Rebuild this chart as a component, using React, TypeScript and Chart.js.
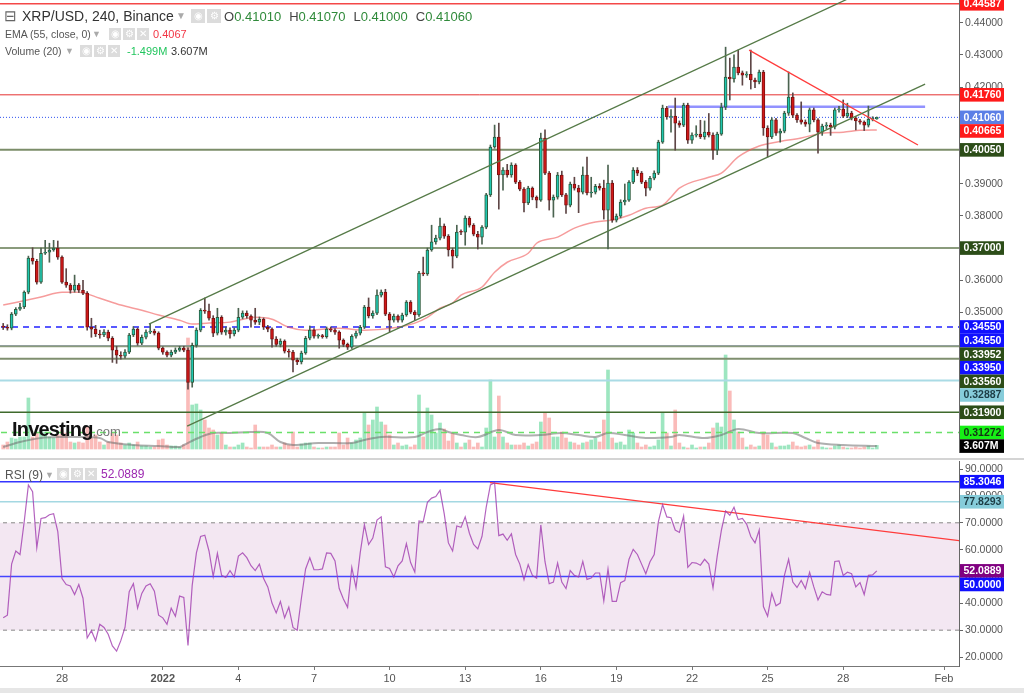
import React, { useEffect, useRef } from 'react';
import { Chart, registerables } from 'chart.js';

Chart.register(...registerables);
Chart.defaults.font.family = 'Arial, "Liberation Sans", sans-serif';

// ---------------- DATA ----------------
// XRP/USD 4h candles (index 0 = Dec 25 16:00 ... index 208 = Jan 29 08:00)
const firstOpen = 0.3458;
const closes = [
  0.3454, 0.3451, 0.3495, 0.3510, 0.3517, 0.3563, 0.3669, 0.3659, 0.3594, 0.3684,
  0.3687, 0.3694, 0.3700, 0.3672, 0.3594, 0.3585, 0.3569, 0.3585, 0.3569, 0.3560,
  0.3454, 0.3448, 0.3433, 0.3430, 0.3439, 0.3420, 0.3383, 0.3367, 0.3364, 0.3377,
  0.3430, 0.3448, 0.3405, 0.3423, 0.3439, 0.3442, 0.3436, 0.3389, 0.3377, 0.3367,
  0.3377, 0.3383, 0.3389, 0.3383, 0.3283, 0.3398, 0.3445, 0.3507, 0.3504, 0.3482,
  0.3436, 0.3485, 0.3439, 0.3445, 0.3433, 0.3445, 0.3485, 0.3498, 0.3489, 0.3476,
  0.3470, 0.3479, 0.3454, 0.3448, 0.3417, 0.3401, 0.3411, 0.3380, 0.3377, 0.3352,
  0.3346, 0.3374, 0.3420, 0.3445, 0.3426, 0.3427, 0.3425, 0.3448, 0.3445, 0.3439,
  0.3414, 0.3401, 0.3392, 0.3426, 0.3436, 0.3454, 0.3517, 0.3489, 0.3498, 0.3554,
  0.3563, 0.3495, 0.3476, 0.3489, 0.3476, 0.3492, 0.3532, 0.3501, 0.3492, 0.3622,
  0.3620, 0.3694, 0.3719, 0.3731, 0.3768, 0.3737, 0.3694, 0.3675, 0.3750, 0.3749,
  0.3793, 0.3771, 0.3743, 0.3734, 0.3765, 0.3865, 0.4014, 0.4045, 0.3927, 0.3942,
  0.3927, 0.3958, 0.3905, 0.3883, 0.3840, 0.3886, 0.3858, 0.3849, 0.4042, 0.3933,
  0.3849, 0.3858, 0.3927, 0.3865, 0.3833, 0.3899, 0.3886, 0.3874, 0.3927, 0.3871,
  0.3874, 0.3892, 0.3886, 0.3818, 0.3902, 0.3787, 0.3799, 0.3843, 0.3849, 0.3905,
  0.3942, 0.3933, 0.3905, 0.3886, 0.3917, 0.3933, 0.4029, 0.4135, 0.4107, 0.4110,
  0.4088, 0.4082, 0.4144, 0.4035, 0.4051, 0.4054, 0.4045, 0.4060, 0.4051, 0.4004,
  0.4054, 0.4138, 0.4231, 0.4225, 0.4262, 0.4244, 0.4237, 0.4240, 0.4222, 0.4216,
  0.4247, 0.4073, 0.4045, 0.4098, 0.4057, 0.4063, 0.4119, 0.4169, 0.4113, 0.4098,
  0.4091, 0.4085, 0.4129, 0.4098, 0.4060, 0.4079, 0.4082, 0.4076, 0.4129, 0.4132,
  0.4110, 0.4119, 0.4104, 0.4095, 0.4091, 0.4082, 0.4100, 0.4101, 0.4106,
];
const highs = [
  0.3466, 0.3462, 0.3500, 0.3515, 0.3528, 0.3567, 0.3675, 0.3701, 0.3665, 0.3700,
  0.3724, 0.3715, 0.3724, 0.3722, 0.3676, 0.3636, 0.3590, 0.3616, 0.3590, 0.3600,
  0.3565, 0.3482, 0.3460, 0.3445, 0.3447, 0.3445, 0.3425, 0.3395, 0.3378, 0.3385,
  0.3435, 0.3456, 0.3452, 0.3430, 0.3446, 0.3466, 0.3448, 0.3440, 0.3393, 0.3381,
  0.3383, 0.3390, 0.3395, 0.3395, 0.3390, 0.3405, 0.3452, 0.3512, 0.3545, 0.3526,
  0.3490, 0.3513, 0.3490, 0.3455, 0.3452, 0.3452, 0.3513, 0.3505, 0.3505, 0.3493,
  0.3513, 0.3486, 0.3483, 0.3460, 0.3452, 0.3425, 0.3418, 0.3415, 0.3386, 0.3382,
  0.3358, 0.3380, 0.3426, 0.3458, 0.3450, 0.3433, 0.3432, 0.3455, 0.3455, 0.3450,
  0.3443, 0.3418, 0.3405, 0.3431, 0.3442, 0.3460, 0.3522, 0.3545, 0.3505, 0.3570,
  0.3570, 0.3572, 0.3500, 0.3495, 0.3493, 0.3498, 0.3537, 0.3537, 0.3506, 0.3628,
  0.3672, 0.3700, 0.3771, 0.3740, 0.3793, 0.3775, 0.3742, 0.3700, 0.3771, 0.3757,
  0.3800, 0.3798, 0.3776, 0.3752, 0.3770, 0.3870, 0.4020, 0.4082, 0.4088, 0.3950,
  0.3960, 0.3965, 0.3962, 0.3910, 0.3888, 0.3892, 0.3890, 0.3862, 0.4057, 0.4067,
  0.3938, 0.3865, 0.3935, 0.3939, 0.3870, 0.3905, 0.3920, 0.3895, 0.3952, 0.3983,
  0.3920, 0.3898, 0.3900, 0.3911, 0.3958, 0.3910, 0.3806, 0.3850, 0.3899, 0.3910,
  0.3950, 0.3950, 0.3938, 0.3910, 0.3923, 0.3940, 0.4035, 0.4144, 0.4140, 0.4130,
  0.4166, 0.4095, 0.4150, 0.4150, 0.4058, 0.4080, 0.4097, 0.4095, 0.4118, 0.4058,
  0.4060, 0.4150, 0.4324, 0.4290, 0.4300, 0.4315, 0.4250, 0.4248, 0.4315, 0.4228,
  0.4253, 0.4252, 0.4080, 0.4105, 0.4103, 0.4070, 0.4125, 0.4247, 0.4182, 0.4118,
  0.4154, 0.4098, 0.4135, 0.4135, 0.4102, 0.4085, 0.4090, 0.4088, 0.4135, 0.4140,
  0.4160, 0.4150, 0.4125, 0.4108, 0.4100, 0.4095, 0.4141, 0.4108, 0.4107,
];
const lows = [
  0.3447, 0.3445, 0.3446, 0.3490, 0.3506, 0.3512, 0.3558, 0.3650, 0.3588, 0.3590,
  0.3680, 0.3656, 0.3690, 0.3665, 0.3590, 0.3578, 0.3560, 0.3563, 0.3562, 0.3555,
  0.3445, 0.3423, 0.3425, 0.3420, 0.3425, 0.3412, 0.3345, 0.3342, 0.3355, 0.3358,
  0.3372, 0.3425, 0.3398, 0.3400, 0.3418, 0.3434, 0.3430, 0.3384, 0.3370, 0.3362,
  0.3362, 0.3372, 0.3379, 0.3378, 0.3262, 0.3268, 0.3392, 0.3440, 0.3497, 0.3476,
  0.3425, 0.3430, 0.3432, 0.3430, 0.3420, 0.3427, 0.3440, 0.3480, 0.3482, 0.3454,
  0.3463, 0.3462, 0.3447, 0.3440, 0.3392, 0.3395, 0.3393, 0.3374, 0.3361, 0.3315,
  0.3338, 0.3340, 0.3370, 0.3415, 0.3420, 0.3420, 0.3420, 0.3420, 0.3440, 0.3432,
  0.3389, 0.3394, 0.3385, 0.3388, 0.3420, 0.3430, 0.3450, 0.3483, 0.3482, 0.3493,
  0.3548, 0.3490, 0.3439, 0.3470, 0.3470, 0.3470, 0.3488, 0.3496, 0.3476, 0.3488,
  0.3614, 0.3615, 0.3690, 0.3712, 0.3725, 0.3730, 0.3675, 0.3638, 0.3670, 0.3742,
  0.3709, 0.3765, 0.3738, 0.3697, 0.3712, 0.3760, 0.3860, 0.4010, 0.3821, 0.3880,
  0.3920, 0.3920, 0.3900, 0.3878, 0.3812, 0.3835, 0.3850, 0.3825, 0.3845, 0.3928,
  0.3818, 0.3796, 0.3852, 0.3860, 0.3808, 0.3828, 0.3880, 0.3810, 0.3868, 0.3865,
  0.3858, 0.3868, 0.3880, 0.3790, 0.3697, 0.3780, 0.3781, 0.3794, 0.3834, 0.3845,
  0.3900, 0.3925, 0.3900, 0.3862, 0.3880, 0.3912, 0.3928, 0.4025, 0.4100, 0.4060,
  0.4004, 0.4075, 0.4077, 0.4025, 0.4025, 0.4045, 0.4040, 0.4038, 0.4045, 0.3975,
  0.3990, 0.4050, 0.4130, 0.4160, 0.4215, 0.4238, 0.4206, 0.4230, 0.4194, 0.4198,
  0.4210, 0.4050, 0.3983, 0.4040, 0.4050, 0.4029, 0.4058, 0.4112, 0.4105, 0.4090,
  0.4085, 0.4078, 0.4061, 0.4092, 0.3995, 0.4050, 0.4070, 0.4050, 0.4070, 0.4122,
  0.4105, 0.4105, 0.4098, 0.4067, 0.4085, 0.4065, 0.4076, 0.4095, 0.4100,
];
// volume in millions
const volumesM = [
  4, 7, 11, 10, 12, 12, 51, 12, 16, 19,
  17, 12, 11, 14, 19, 16, 7, 6, 7, 6,
  22, 11, 14, 7, 4, 7, 16, 14, 6, 4,
  6, 4, 7, 3, 3, 2, 2, 9, 10, 4,
  3, 3, 2, 4, 111, 44, 45, 39, 29, 21,
  19, 14, 16, 4, 2, 2, 4, 6, 2, 1,
  24, 2, 2, 2, 4, 2, 2, 6, 4, 17,
  2, 5, 6, 6, 2, 1, 1, 2, 2, 2,
  16, 4, 11, 6, 9, 11, 36, 24, 29, 42,
  27, 24, 14, 4, 6, 3, 4, 2, 4, 54,
  12, 41, 34, 16, 26, 20, 8, 16, 6, 2,
  6, 9, 2, 6, 2, 21, 69, 12, 53, 12,
  6, 4, 4, 4, 6, 3, 5, 7, 27, 36,
  31, 12, 12, 17, 11, 7, 6, 4, 6, 7,
  9, 11, 7, 29, 79, 11, 6, 7, 4, 19,
  16, 6, 2, 4, 2, 3, 9, 36, 16, 3,
  39, 6, 2, 1, 4, 1, 2, 2, 6, 21,
  26, 22, 94, 58, 29, 17, 11, 2, 4, 2,
  3, 17, 14, 6, 2, 3, 3, 4, 7, 3,
  2, 3, 4, 2, 9, 2, 1, 1, 3, 4,
  2, 1, 1, 2, 1, 2, 3, 1, 3.607,
];
// EMA(55) at candle indexes
const emaIdx = [0, 9, 14, 18, 23, 28, 33, 37, 42, 45, 49, 54, 60, 64, 68, 72, 80, 86, 94, 98, 101, 104, 107, 109, 114, 117, 120, 125, 127, 132, 136, 141, 145, 149, 153, 157, 159, 161, 168, 171, 175, 180, 184, 190, 195, 200, 204, 208];
const emaVal = [0.3523, 0.3548, 0.3563, 0.3563, 0.3544, 0.3523, 0.3507, 0.3492, 0.3476, 0.3464, 0.3467, 0.3470, 0.3485, 0.3479, 0.3454, 0.3445, 0.3451, 0.3445, 0.3454, 0.3467, 0.3485, 0.3513, 0.3529, 0.3554, 0.3579, 0.3625, 0.3656, 0.3684, 0.3715, 0.3734, 0.3762, 0.3781, 0.3787, 0.3802, 0.3824, 0.3833, 0.3858, 0.3886, 0.3920, 0.3933, 0.3983, 0.4017, 0.4029, 0.4042, 0.4057, 0.4060, 0.4066, 0.4067];
// Volume MA(20), millions
const volMaIdx = [0, 4, 9, 14, 18, 23, 25, 31, 37, 42, 43, 47, 50, 54, 59, 63, 66, 69, 75, 83, 86, 90, 98, 101, 104, 106, 109, 113, 118, 122, 128, 133, 137, 141, 144, 148, 153, 159, 161, 167, 171, 175, 180, 188, 191, 194, 200, 208];
const volMaVal = [2, 7, 11, 12, 12, 11, 7, 4, 3, 2, 4, 12, 16, 16, 17, 16, 7, 4, 6, 6, 9, 12, 12, 17, 20, 17, 14, 12, 19, 14, 14, 16, 14, 12, 16, 14, 11, 12, 14, 11, 14, 20, 16, 16, 11, 6, 4, 3];
// RSI(9)
const rsiValues = [
  34.6, 35.6, 54.6, 59.5, 58.2, 70.4, 84.1, 81.6, 60.7, 71.6,
  71.9, 73.0, 73.4, 66.7, 49.2, 47.0, 46.5, 43.3, 47.0, 41.9,
  27.1, 29.8, 26.1, 32.2, 31.0, 28.5, 24.1, 22.2, 26.1, 31.0,
  44.3, 47.3, 38.2, 43.7, 46.5, 47.3, 44.5, 35.6, 34.6, 32.2,
  38.2, 35.2, 42.7, 42.2, 24.3, 46.7, 58.8, 64.9, 65.4, 59.5,
  50.0, 58.6, 50.4, 49.6, 52.2, 49.8, 57.6, 58.8, 57.0, 54.0,
  52.2, 54.6, 49.2, 46.1, 40.1, 36.4, 40.7, 34.6, 38.6, 31.0,
  30.0, 41.9, 52.8, 57.0, 52.5, 52.5, 52.8, 58.8, 58.6, 55.8,
  45.5, 41.6, 38.5, 53.4, 45.8, 58.8, 69.2, 61.9, 64.3, 71.0,
  72.2, 53.6, 53.0, 49.8, 54.0, 55.8, 62.2, 55.2, 51.6, 70.7,
  70.4, 77.6, 79.2, 79.8, 82.1, 73.4, 62.5, 59.5, 68.8, 68.3,
  72.2, 66.1, 61.9, 60.3, 64.9, 75.8, 84.1, 84.9, 65.2, 65.8,
  63.5, 65.9, 58.2, 54.6, 48.8, 54.4, 50.4, 49.4, 69.2, 55.5,
  47.3, 47.9, 55.0, 47.9, 45.5, 52.2, 50.4, 49.8, 55.6, 48.9,
  49.4, 51.3, 51.3, 40.9, 52.8, 40.7, 40.7, 47.7, 48.5, 56.4,
  60.1, 58.2, 54.6, 51.0, 55.5, 58.2, 70.4, 76.8, 72.2, 71.9,
  67.3, 66.4, 72.5, 53.4, 55.2, 55.0, 54.2, 56.4, 54.6, 45.8,
  57.6, 67.3, 74.4, 72.8, 75.8, 71.2, 71.6, 69.5, 64.9, 62.5,
  67.3, 38.8, 35.2, 43.7, 39.1, 40.1, 50.4, 56.4, 47.9, 45.9,
  48.5, 45.5, 51.6, 46.1, 41.3, 44.3, 43.3, 43.1, 55.6, 55.8,
  50.4, 51.6, 51.0, 46.1, 47.7, 43.3, 50.4, 50.6, 52.0889,
];
const dateTickIdx = [14, 38, 56, 74, 92, 110, 128, 146, 164, 182, 200, 224];
const dateTickLabels = ['28', '2022', '4', '7', '10', '13', '16', '19', '22', '25', '28', 'Feb'];
const priceTicks = [0.35, 0.36, 0.37, 0.38, 0.39, 0.40, 0.41, 0.42, 0.43, 0.44];
const rsiTicks = [20, 30, 40, 50, 60, 70, 80, 90];

// drawn price levels
const levelTopRed = 0.44587;
const levelRed = 0.4176;
const level4005 = 0.4005;
const level37 = 0.37;
const level3455 = 0.3455;
const level3455b = 0.3455;
const level33952 = 0.33952;
const level3395 = 0.3395;
const level3356 = 0.3356;
const level32887 = 0.32887;
const level319 = 0.319;
const level31272 = 0.31272;
const lastEmaLevel = 0.40665;
const blueBoxLevel = 0.4139;
// trend lines: [candle index, price]
const channelUpper = [[34.7, 0.3464], [210, 0.4528]];
const channelLower = [[43.8, 0.3147], [219.5, 0.4209]];
const redTrend = [[177.6, 0.4315], [217.8, 0.4020]];
const blueSegment = [[158.3, blueBoxLevel], [219.5, blueBoxLevel]];
// RSI levels
const rsiHigh = 85.3046;
const rsiCyan = 77.8293;
const rsiUpperBand = 70;
const rsiMid = 50;
const rsiLowerBand = 30;
const rsiTrend = [[115.9, 85.0], [228, 63.3]];

// ---------------- CHART ----------------
const X_MIN = -0.762;
const X_MAX = 227.57;
const FONT = 'Arial, "Liberation Sans", sans-serif';

function hline(y: number, color: string, width: number, dash: number[] = [], axis = 'y', order = 6) {
  return {
    type: 'line' as const,
    data: [{ x: X_MIN - 5, y }, { x: X_MAX + 5, y }],
    borderColor: color,
    borderWidth: width,
    borderDash: dash,
    pointRadius: 0,
    fill: false,
    yAxisID: axis,
    order,
  };
}
function segment(pts: number[][], color: string, width: number, order = 1) {
  return {
    type: 'line' as const,
    data: pts.map(p => ({ x: p[0], y: p[1] })),
    borderColor: color,
    borderWidth: width,
    pointRadius: 0,
    fill: false,
    yAxisID: 'y',
    order,
  };
}

type Lbl = { value: number; text: string; bg: string; fg: string; axis?: string };
function boxPlugin(items: Lbl[]) {
  return {
    id: 'axisBoxes',
    afterDraw(chart: any) {
      const { ctx, chartArea } = chart;
      const placed = items
        .map(it => ({ ...it, py: chart.scales[it.axis || 'y'].getPixelForValue(it.value) }))
        .sort((a, b) => a.py - b.py);
      const h = 13.6;
      let prev = -1e9;
      ctx.save();
      ctx.font = 'bold 10.5px ' + FONT;
      ctx.textBaseline = 'middle';
      ctx.textAlign = 'left';
      for (const p of placed) {
        const y = Math.max(p.py, prev + h);
        prev = y;
        ctx.fillStyle = p.bg;
        ctx.fillRect(chartArea.right + 1, y - h / 2, 44, h);
        ctx.fillStyle = p.fg;
        ctx.fillText(p.text, chartArea.right + 4.5, y + 0.5);
      }
      ctx.restore();
    },
  };
}

const iconBox: React.CSSProperties = {
  display: 'inline-block', width: 12, height: 12, background: '#dcdcdc', color: '#fff',
  fontSize: 10, lineHeight: '12px', textAlign: 'center', marginRight: 2, verticalAlign: 'top',
};

export default function App() {
  const mainRef = useRef<HTMLCanvasElement>(null);
  const rsiRef = useRef<HTMLCanvasElement>(null);

  useEffect(() => {
    const opens = closes.map((c, i) => (i === 0 ? firstOpen : closes[i - 1]));
    const up = closes.map((c, i) => c >= opens[i]);
    const lastClose = closes[closes.length - 1];
    const lastVol = volumesM[volumesM.length - 1];

    const mainLabels: Lbl[] = [
      { value: levelTopRed, text: levelTopRed.toFixed(5), bg: '#ff1a1a', fg: '#fff' },
      { value: levelRed, text: levelRed.toFixed(5), bg: '#ff1a1a', fg: '#fff' },
      { value: lastClose, text: lastClose.toFixed(5), bg: '#5b7fe6', fg: '#fff' },
      { value: lastEmaLevel, text: lastEmaLevel.toFixed(5), bg: '#ff1a1a', fg: '#fff' },
      { value: level4005, text: level4005.toFixed(5), bg: '#2c4d18', fg: '#fff' },
      { value: level37, text: level37.toFixed(5), bg: '#2c4d18', fg: '#fff' },
      { value: level3455, text: level3455.toFixed(5), bg: '#1010ff', fg: '#fff' },
      { value: level3455b, text: level3455b.toFixed(5), bg: '#1010ff', fg: '#fff' },
      { value: level33952, text: level33952.toFixed(5), bg: '#2c4d18', fg: '#fff' },
      { value: level3395, text: level3395.toFixed(5), bg: '#1010ff', fg: '#fff' },
      { value: level3356, text: level3356.toFixed(5), bg: '#2c4d18', fg: '#fff' },
      { value: level32887, text: level32887.toFixed(5), bg: '#86ccda', fg: '#1d3d45' },
      { value: level319, text: level319.toFixed(5), bg: '#2c4d18', fg: '#fff' },
      { value: level31272, text: level31272.toFixed(5), bg: '#16f016', fg: '#153015' },
      { value: lastVol, text: lastVol.toFixed(3) + 'M', bg: '#000', fg: '#fff', axis: 'yVol' },
    ];

    const main = new Chart(mainRef.current!, {
      type: 'bar',
      data: {
        datasets: [
          {
            type: 'bar',
            data: volumesM.map((v, i) => ({ x: i, y: v })),
            backgroundColor: up.map(u => (u ? 'rgba(60, 205, 130, 0.5)' : 'rgba(245, 120, 115, 0.5)')),
            borderWidth: 0,
            barThickness: 3,
            grouped: false,
            yAxisID: 'yVol',
            order: 10,
          } as any,
          {
            type: 'line',
            data: volMaIdx.map((ix, k) => ({ x: ix, y: volMaVal[k] })),
            borderColor: 'rgba(110, 110, 110, 0.55)',
            borderWidth: 2,
            pointRadius: 0,
            tension: 0.35,
            fill: false,
            yAxisID: 'yVol',
            order: 9,
          } as any,
          hline(levelTopRed, '#f44848', 1.5),
          hline(levelRed, '#e53030', 1),
          hline(lastClose, '#2c4ff0', 1, [1, 2]),
          hline(level4005, '#7b8d69', 2),
          hline(level37, '#8a9b7c', 2),
          hline(level3455, '#2222ff', 1.5, [6, 5]),
          hline(level33952, '#8a9b7c', 2),
          hline(level3395, '#5a5aff', 1.3),
          hline(level3356, '#7f8f6f', 2),
          hline(level32887, '#aadbe5', 2),
          hline(level319, '#3f6a2c', 1.5),
          hline(level31272, '#6ae06a', 1.5, [6, 5]),
          segment(blueSegment, 'rgba(110, 110, 255, 0.75)', 2.5, 4),
          {
            type: 'line',
            data: emaIdx.map((ix, k) => ({ x: ix, y: emaVal[k] })),
            borderColor: 'rgba(240, 90, 90, 0.6)',
            borderWidth: 1.5,
            pointRadius: 0,
            cubicInterpolationMode: 'monotone',
            fill: false,
            yAxisID: 'y',
            order: 5,
          } as any,
          {
            type: 'bar',
            data: closes.map((c, i) => ({ x: i, y: [lows[i], highs[i]] })),
            backgroundColor: up.map(u => (u ? '#4b6350' : '#5e4646')),
            borderWidth: 0,
            barThickness: 1,
            grouped: false,
            yAxisID: 'y',
            order: 3,
          } as any,
          {
            type: 'bar',
            data: closes.map((c, i) => ({ x: i, y: [opens[i], c] })),
            backgroundColor: up.map(u => (u ? '#1fc7b0' : '#d01818')),
            borderColor: up.map(u => (u ? '#2d5a3c' : '#7c1010')),
            borderWidth: 1,
            borderSkipped: false,
            barThickness: 3,
            minBarLength: 1,
            grouped: false,
            yAxisID: 'y',
            order: 2,
          } as any,
          segment(channelUpper, '#557a47', 1.3, 1),
          segment(channelLower, '#557a47', 1.3, 1),
          segment(redTrend, '#ff3b3b', 1.3, 1),
        ],
      },
      options: {
        animation: false,
        responsive: false,
        maintainAspectRatio: false,
        events: [],
        layout: { padding: { top: 0, bottom: 6, left: 0, right: 0 } },
        plugins: { legend: { display: false }, tooltip: { enabled: false } },
        scales: {
          x: { type: 'linear', min: X_MIN, max: X_MAX, display: false, offset: false, grid: { offset: false } },
          y: {
            type: 'linear',
            position: 'right',
            min: 0.30666,
            max: 0.44705,
            afterBuildTicks: (s: any) => { s.ticks = priceTicks.map(v => ({ value: v })); },
            afterFit: (s: any) => { s.width = 65; s.paddingTop = 0; s.paddingBottom = 0; },
            ticks: {
              callback: (v: any) => Number(v).toFixed(5),
              color: '#555',
              font: { size: 10.5 },
              padding: 2,
            },
            grid: { drawOnChartArea: false, drawTicks: true, tickLength: 4, color: '#666' },
            border: { display: true, color: '#666' },
          },
          yVol: { type: 'linear', display: false, min: -3, max: 449 },
        },
      } as any,
      plugins: [boxPlugin(mainLabels)],
    });

    const rsiLabels: Lbl[] = [
      { value: rsiHigh, text: rsiHigh.toFixed(4), bg: '#1010ff', fg: '#fff' },
      { value: rsiCyan, text: rsiCyan.toFixed(4), bg: '#86ccda', fg: '#1d3d45' },
      { value: rsiValues[rsiValues.length - 1], text: rsiValues[rsiValues.length - 1].toFixed(4), bg: '#800080', fg: '#fff' },
      { value: rsiMid, text: rsiMid.toFixed(4), bg: '#1010ff', fg: '#fff' },
    ];

    const rsi = new Chart(rsiRef.current!, {
      type: 'line',
      data: {
        datasets: [
          {
            ...hline(rsiUpperBand, '#888', 1, [4, 4], 'y', 10),
            fill: { value: rsiLowerBand },
            backgroundColor: 'rgba(150, 40, 140, 0.11)',
          } as any,
          hline(rsiLowerBand, '#888', 1, [4, 4], 'y', 9),
          hline(rsiHigh, '#3535ff', 1.5),
          hline(rsiCyan, '#a4d8e2', 1.5),
          hline(rsiMid, '#4545ff', 1.5),
          segment(rsiTrend, '#ff3b3b', 1.3, 2),
          {
            type: 'line',
            data: rsiValues.map((v, i) => ({ x: i, y: v })),
            borderColor: 'rgba(160, 60, 175, 0.8)',
            borderWidth: 1.2,
            pointRadius: 0,
            fill: false,
            yAxisID: 'y',
            order: 1,
          } as any,
        ],
      },
      options: {
        animation: false,
        responsive: false,
        maintainAspectRatio: false,
        events: [],
        layout: { padding: { top: 3, bottom: 0, left: 0, right: 0 } },
        plugins: { legend: { display: false }, tooltip: { enabled: false } },
        scales: {
          x: {
            type: 'linear',
            min: X_MIN,
            max: X_MAX,
            offset: false,
            position: 'bottom',
            afterBuildTicks: (s: any) => { s.ticks = dateTickIdx.map(v => ({ value: v })); },
            afterFit: (s: any) => { s.height = 22; s.paddingLeft = 0; s.paddingRight = 0; },
            ticks: {
              callback: (v: any) => {
                const k = dateTickIdx.indexOf(Number(v));
                return k >= 0 ? dateTickLabels[k] : '';
              },
              color: '#555',
              font: (c: any) => ({ size: 11, weight: c.tick && c.tick.value === 38 ? 'bold' : 'normal' }),
              maxRotation: 0,
              autoSkip: false,
              padding: 2,
            },
            grid: { drawOnChartArea: false, drawTicks: true, tickLength: 4, color: '#777' },
            border: { display: true, color: '#777' },
          },
          y: {
            type: 'linear',
            position: 'right',
            min: 16.65,
            max: 93.02,
            afterBuildTicks: (s: any) => { s.ticks = rsiTicks.map(v => ({ value: v })); },
            afterFit: (s: any) => { s.width = 65; s.paddingTop = 0; s.paddingBottom = 0; },
            ticks: {
              callback: (v: any) => Number(v).toFixed(4),
              color: '#555',
              font: { size: 10.5 },
              padding: 2,
            },
            grid: { drawOnChartArea: false, drawTicks: true, tickLength: 4, color: '#666' },
            border: { display: true, color: '#666' },
          },
        },
      } as any,
      plugins: [boxPlugin(rsiLabels)],
    });

    return () => {
      main.destroy();
      rsi.destroy();
    };
  }, []);

  const txt: React.CSSProperties = { position: 'absolute', whiteSpace: 'nowrap', fontFamily: FONT };

  return (
    <div style={{ position: 'absolute', left: 0, top: 0, width: 1024, height: 693, background: '#fff', overflow: 'hidden', fontFamily: FONT }}>
      <canvas ref={mainRef} width={1024} height={458} style={{ position: 'absolute', left: 0, top: 0, width: 1024, height: 458 }} />
      <div style={{ position: 'absolute', left: 0, top: 458, width: 1024, height: 2, background: '#d4d4d4' }} />
      <canvas ref={rsiRef} width={1024} height={230} style={{ position: 'absolute', left: 0, top: 458, width: 1024, height: 230 }} />
      <div style={{ position: 'absolute', left: 0, top: 688, width: 1024, height: 5, background: '#e6e6e6' }} />

      {/* main legend */}
      <div style={{ ...txt, left: 4, top: 7, fontSize: 15, color: '#666' }}>⊟</div>
      <div style={{ ...txt, left: 22, top: 8, fontSize: 14, color: '#333' }}>XRP/USD, 240, Binance</div>
      <div style={{ ...txt, left: 176, top: 10, fontSize: 10, color: '#aaa' }}>▼</div>
      <div style={{ ...txt, left: 191, top: 9 }}>
        <span style={{ ...iconBox, width: 14, height: 14, lineHeight: '14px' }}>◉</span>
        <span style={{ ...iconBox, width: 14, height: 14, lineHeight: '14px' }}>⚙</span>
      </div>
      <div style={{ ...txt, left: 224, top: 9, fontSize: 13, color: '#444' }}>
        O<span style={{ color: '#2f8a3a' }}>0.41010</span>
        <span style={{ marginLeft: 8 }}>H</span><span style={{ color: '#2f8a3a' }}>0.41070</span>
        <span style={{ marginLeft: 8 }}>L</span><span style={{ color: '#2f8a3a' }}>0.41000</span>
        <span style={{ marginLeft: 8 }}>C</span><span style={{ color: '#2f8a3a' }}>0.41060</span>
      </div>
      <div style={{ ...txt, left: 5, top: 28, fontSize: 10.5, color: '#555' }}>EMA (55, close, 0)</div>
      <div style={{ ...txt, left: 92, top: 29, fontSize: 9, color: '#aaa' }}>▼</div>
      <div style={{ ...txt, left: 109, top: 28 }}>
        <span style={iconBox}>◉</span><span style={iconBox}>⚙</span><span style={iconBox}>✕</span>
      </div>
      <div style={{ ...txt, left: 153, top: 28, fontSize: 11, color: '#f23645' }}>0.4067</div>
      <div style={{ ...txt, left: 5, top: 45, fontSize: 10.5, color: '#555' }}>Volume (20)</div>
      <div style={{ ...txt, left: 65, top: 46, fontSize: 9, color: '#aaa' }}>▼</div>
      <div style={{ ...txt, left: 80, top: 45 }}>
        <span style={iconBox}>◉</span><span style={iconBox}>⚙</span><span style={iconBox}>✕</span>
      </div>
      <div style={{ ...txt, left: 127, top: 45, fontSize: 11, color: '#22c55e' }}>-1.499M</div>
      <div style={{ ...txt, left: 171, top: 45, fontSize: 11, color: '#333' }}>3.607M</div>

      {/* Investing logo */}
      <div style={{ ...txt, left: 12, top: 418, fontSize: 20, fontWeight: 'bold', color: '#111', letterSpacing: -0.8 }}>
        Investing<span style={{ fontSize: 13, fontWeight: 'normal', color: '#777', letterSpacing: 0 }}>.com</span>
      </div>

      {/* RSI legend */}
      <div style={{ ...txt, left: 5, top: 468, fontSize: 12, color: '#555' }}>RSI (9)</div>
      <div style={{ ...txt, left: 45, top: 470, fontSize: 9, color: '#aaa' }}>▼</div>
      <div style={{ ...txt, left: 57, top: 468 }}>
        <span style={iconBox}>◉</span><span style={iconBox}>⚙</span><span style={iconBox}>✕</span>
      </div>
      <div style={{ ...txt, left: 101, top: 467, fontSize: 12, color: '#9c27b0' }}>52.0889</div>
    </div>
  );
}
